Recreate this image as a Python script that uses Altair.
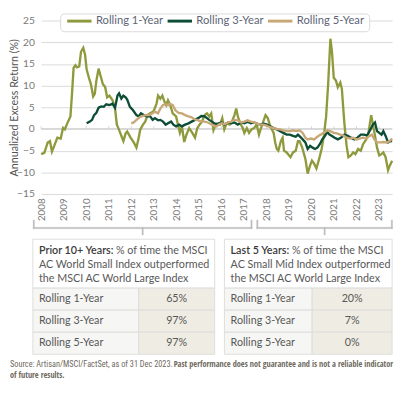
import altair as alt
import pandas as pd

# ---------------- data ----------------
series_names = ["Rolling 1-Year", "Rolling 3-Year", "Rolling 5-Year"]
series_colors = ["#8f9a3c", "#0d4d36", "#c9a878"]

rolling_1y = [
    (2008.00, -5.8), (2008.14, -5.5), (2008.29, -3.1), (2008.39, -2.8), (2008.48, -5.2),
    (2008.58, -3.9), (2008.72, -2.0), (2008.87, -2.2), (2008.97, 0.2), (2009.05, -0.1),
    (2009.16, 1.3), (2009.30, 2.9), (2009.37, 8.1), (2009.44, 14.1), (2009.52, 14.7),
    (2009.59, 14.2), (2009.69, 14.4), (2009.77, 17.8), (2009.87, 18.7), (2009.95, 17.1),
    (2010.02, 13.7), (2010.12, 11.8), (2010.21, 10.3), (2010.31, 7.5), (2010.38, 8.1),
    (2010.45, 11.1), (2010.55, 13.9), (2010.64, 12.2), (2010.74, 10.3), (2010.84, 9.7),
    (2010.93, 7.3), (2011.03, 7.7), (2011.17, 6.6), (2011.28, 4.7), (2011.36, 1.0),
    (2011.46, -0.2), (2011.56, -1.6), (2011.65, -2.8), (2011.75, -1.0), (2011.82, -0.6),
    (2011.97, -2.0), (2012.11, -3.1), (2012.23, -4.3), (2012.33, -2.0), (2012.40, -0.1),
    (2012.52, 1.0), (2012.62, 1.7), (2012.72, 3.2), (2012.84, 3.6), (2012.98, 4.0),
    (2013.12, 5.8), (2013.19, 7.7), (2013.29, 7.0), (2013.38, 7.7), (2013.48, 6.2),
    (2013.55, 5.5), (2013.63, 6.6), (2013.73, 5.5), (2013.84, 3.6), (2013.99, 2.9),
    (2014.06, 1.3), (2014.16, -0.9), (2014.25, 0.6), (2014.35, -3.0), (2014.45, -1.3),
    (2014.57, 0.2), (2014.71, -0.9), (2014.83, -2.0), (2014.93, 0.2), (2015.03, 1.0),
    (2015.14, 1.7), (2015.26, 3.2), (2015.36, 3.6), (2015.46, 2.9), (2015.55, 3.6),
    (2015.65, -0.3), (2015.75, 1.0), (2015.94, 1.0), (2016.04, 2.5), (2016.13, -0.1),
    (2016.23, 1.3), (2016.37, 1.0), (2016.47, 1.7), (2016.58, 3.2), (2016.66, 4.7),
    (2016.73, 2.9), (2016.84, 1.3), (2016.95, 0.2), (2017.02, -0.9), (2017.13, 0.2),
    (2017.23, -0.9), (2017.34, -0.1), (2017.45, 0.2), (2017.57, 1.0), (2017.67, -1.3),
    (2017.74, -0.1), (2017.86, 1.7), (2017.96, 3.2), (2018.06, 2.5), (2018.17, 0.6),
    (2018.32, -0.9), (2018.39, -3.1), (2018.46, -4.6), (2018.53, -5.0), (2018.64, -2.8),
    (2018.72, -2.0), (2018.78, -5.0), (2018.90, -5.4), (2019.01, -6.1), (2019.07, -6.5),
    (2019.18, -5.4), (2019.30, -5.0), (2019.40, -2.8), (2019.47, -2.8), (2019.59, -4.3),
    (2019.73, -6.9), (2019.83, -10.3), (2019.94, -8.4), (2020.02, -7.3), (2020.12, -8.0),
    (2020.22, -9.1), (2020.34, -6.9), (2020.45, -4.6), (2020.55, -1.6), (2020.65, 2.9),
    (2020.74, 10.3), (2020.84, 20.8), (2020.91, 17.8), (2020.99, 11.8), (2021.09, 11.1),
    (2021.17, 9.6), (2021.28, 10.7), (2021.35, 9.2), (2021.46, 1.3), (2021.56, -3.9),
    (2021.64, -6.5), (2021.75, -6.1), (2021.85, -5.4), (2021.95, -5.8), (2022.07, -4.6),
    (2022.19, -5.0), (2022.29, -3.5), (2022.43, -2.4), (2022.53, -0.9), (2022.65, 3.2),
    (2022.72, 1.3), (2022.82, -1.6), (2022.91, -4.3), (2023.01, -6.1), (2023.11, -5.8),
    (2023.19, -5.4), (2023.29, -6.5), (2023.40, -9.5), (2023.48, -8.4), (2023.58, -7.3),
]

rolling_3y = [
    (2010.02, 1.3), (2010.16, 1.7), (2010.26, 2.1), (2010.35, 3.2), (2010.45, 3.7),
    (2010.55, 4.9), (2010.67, 5.2), (2010.78, 5.1), (2010.89, 5.7), (2011.03, 5.5),
    (2011.17, 5.8), (2011.28, 4.9), (2011.39, 7.7), (2011.46, 8.2), (2011.56, 7.0),
    (2011.65, 7.7), (2011.75, 7.3), (2011.82, 6.8), (2011.94, 5.1), (2012.08, 4.3),
    (2012.23, 3.2), (2012.33, 2.9), (2012.43, 3.6), (2012.55, 3.2), (2012.69, 2.9),
    (2012.84, 2.9), (2012.95, 2.1), (2013.05, 2.5), (2013.19, 2.0), (2013.29, 2.1),
    (2013.41, 1.7), (2013.53, 1.0), (2013.63, 1.3), (2013.77, 1.7), (2013.87, 1.0),
    (2013.99, 0.6), (2014.13, 1.0), (2014.25, 0.6), (2014.39, 1.0), (2014.54, 1.3),
    (2014.68, 1.7), (2014.83, 2.1), (2014.97, 2.5), (2015.11, 3.0), (2015.26, 2.9),
    (2015.36, 2.5), (2015.46, 2.1), (2015.58, 1.7), (2015.69, 1.3), (2015.79, 1.2),
    (2015.87, 1.3), (2016.01, 1.5), (2016.15, 1.0), (2016.30, 1.5), (2016.44, 1.3),
    (2016.58, 1.5), (2016.73, 1.0), (2016.87, 1.5), (2017.02, 1.3), (2017.16, 1.7),
    (2017.31, 1.3), (2017.45, 1.5), (2017.60, 1.2), (2017.74, 1.0), (2017.88, 1.2),
    (2018.03, 1.0), (2018.17, 0.6), (2018.32, 0.2), (2018.46, -0.1), (2018.61, -0.5),
    (2018.75, -0.9), (2018.90, -1.3), (2019.04, -1.3), (2019.18, -1.6), (2019.30, -1.8),
    (2019.40, -1.3), (2019.50, -1.8), (2019.61, -2.4), (2019.73, -3.1), (2019.83, -4.6),
    (2019.94, -3.9), (2020.05, -4.3), (2020.16, -4.6), (2020.26, -4.3), (2020.37, -3.5),
    (2020.48, -2.4), (2020.60, -1.6), (2020.70, -0.7), (2020.80, -1.3), (2020.91, -1.6),
    (2021.03, -2.0), (2021.17, -2.4), (2021.32, -2.0), (2021.46, -1.3), (2021.61, -1.6),
    (2021.75, -2.0), (2021.90, -2.4), (2022.04, -2.0), (2022.19, -1.3), (2022.33, -1.3),
    (2022.47, -1.5), (2022.62, -0.1), (2022.72, 1.0), (2022.82, 1.5), (2022.91, -0.5),
    (2023.01, -0.9), (2023.11, -1.3), (2023.19, -0.5), (2023.29, -1.6), (2023.40, -3.1),
    (2023.51, -2.8), (2023.58, -2.8),
]

rolling_5y = [
    (2012.00, 1.3), (2012.11, 1.5), (2012.23, 2.1), (2012.37, 2.7), (2012.52, 3.0),
    (2012.66, 3.2), (2012.81, 3.2), (2012.95, 3.6), (2013.05, 4.0), (2013.19, 3.6),
    (2013.29, 4.7), (2013.41, 5.5), (2013.53, 5.7), (2013.63, 5.5), (2013.73, 5.8),
    (2013.84, 5.5), (2013.96, 4.3), (2014.10, 3.7), (2014.25, 3.6), (2014.39, 3.2),
    (2014.54, 2.9), (2014.68, 2.7), (2014.83, 2.2), (2014.97, 2.0), (2015.11, 1.7),
    (2015.26, 1.7), (2015.40, 1.5), (2015.55, 1.1), (2015.69, 0.7), (2015.79, 0.6),
    (2015.87, 1.0), (2016.01, 1.3), (2016.15, 1.1), (2016.30, 1.5), (2016.44, 1.7),
    (2016.58, 2.1), (2016.73, 2.0), (2016.87, 1.5), (2017.02, 1.7), (2017.16, 2.0),
    (2017.31, 1.7), (2017.45, 1.5), (2017.60, 1.2), (2017.74, 1.0), (2017.88, 1.0),
    (2018.03, 0.7), (2018.17, 0.4), (2018.32, 0.2), (2018.46, 0.0), (2018.61, -0.1),
    (2018.75, -0.3), (2018.90, -0.5), (2019.04, -0.5), (2019.18, -0.3), (2019.33, -0.5),
    (2019.47, -0.3), (2019.61, -0.9), (2019.73, -2.0), (2019.83, -2.4), (2019.98, -2.2),
    (2020.12, -2.4), (2020.26, -1.8), (2020.41, -1.3), (2020.55, -0.9), (2020.70, -0.3),
    (2020.84, -0.5), (2020.99, -0.9), (2021.13, -1.0), (2021.28, -1.3), (2021.42, -1.5),
    (2021.56, -2.0), (2021.71, -2.2), (2021.85, -2.0), (2022.00, -2.4), (2022.14, -2.2),
    (2022.29, -2.0), (2022.43, -2.2), (2022.58, -1.6), (2022.68, -1.3), (2022.79, -2.4),
    (2022.91, -3.1), (2023.05, -3.1), (2023.19, -3.0), (2023.34, -3.1), (2023.48, -2.8),
    (2023.58, -2.2),
]

year_ticks = list(range(2008, 2024))
y_ticks = [-15, -10, -5, 0, 5, 10, 15, 20, 25]

table_rows = ["Rolling 1-Year", "Rolling 3-Year", "Rolling 5-Year"]
prior_pct = ["65%", "97%", "97%"]
last5_pct = ["20%", "7%", "0%"]
prior_head_bold = "Prior 10+ Years:"
prior_head = ["% of time the MSCI", "AC World Small Index outperformed", "the MSCI AC World Large Index"]
last5_head_bold = "Last 5 Years:"
last5_head = ["% of time the MSCI", "AC Small Mid Index outperformed", "the MSCI AC World Large Index"]
source_plain = "Source: Artisan/MSCI/FactSet, as of 31 Dec 2023."
source_bold = ["Past performance does not guarantee and is not a reliable indicator", "of future results."]

# ---------------- layout constants (pixels, relative to plot origin) ----------------
W, H = 360, 178
FONT = "Lato"
COND = "Roboto Condensed"
COND_BOLD = "Open Sans Condensed"

xscale = alt.Scale(domain=[2008.0, 2023.58], nice=False, zero=False)
yscale = alt.Scale(domain=[-15, 25], nice=False, zero=False)
x_axis = alt.Axis(values=year_ticks, format="d", labelAngle=-90, grid=False, domain=False,
                  ticks=False, labelPadding=4, labelFlush=False, labelOverlap=False,
                  labelFont=FONT, labelFontSize=10, labelColor="#7a7a7a", title=None)
y_axis = alt.Axis(values=y_ticks, grid=True, gridColor="#dadada", gridWidth=1, domain=False,
                  ticks=False, labelPadding=7, labelOverlap=False, labelFont=FONT, labelFontSize=10.5,
                  labelColor="#7a7a7a", title="Annualized Excess Return (%)",
                  titleFont=FONT, titleFontSize=11, titleFontWeight="normal",
                  titleColor="#555555", titleX=-27, titleY=H / 2, titleAngle=270,
                  titleAlign="center", titleBaseline="middle")


def X(field):
    return alt.X(field, scale=xscale, axis=x_axis)


def Y(field):
    return alt.Y(field, scale=yscale, axis=y_axis)


def PX(field):
    return alt.X(field, scale=None)


def PY(field):
    return alt.Y(field, scale=None)


series_frames = []
for name, pts in zip(series_names, [rolling_1y, rolling_3y, rolling_5y]):
    series_frames.append(pd.DataFrame({"t": [p[0] for p in pts], "v": [p[1] for p in pts], "series": name}))

line_layers = [
    alt.Chart(df).mark_line(color=col, strokeWidth=2.4).encode(x=X("t:Q"), y=Y("v:Q"))
    for df, col in zip(series_frames, series_colors)
]

# zero line with small ticks
zero_df = pd.DataFrame({"t": year_ticks, "v": [0] * len(year_ticks)})
zero_rule = alt.Chart(zero_df.head(1)).mark_rule(color="#cfcfcf", strokeWidth=1.3).encode(y=Y("v:Q"))
zero_ticks = alt.Chart(zero_df).mark_tick(
    orient="vertical", size=3, thickness=1, color="#c8c8c8", yOffset=-1.5).encode(x=X("t:Q"), y=Y("v:Q"))

# ---------------- legend ----------------
leg_box = alt.Chart(pd.DataFrame({"x0": [20], "x1": [337], "y0": [-6.7], "y1": [11.5]})).mark_rect(
    fill="white", stroke="#d9d9d9", strokeWidth=1, cornerRadius=4).encode(
    x=PX("x0:Q"), x2="x1:Q", y=PY("y0:Q"), y2="y1:Q")
leg_df = pd.DataFrame({"name": series_names, "col": series_colors})
leg_df["sx"] = [26.7 + 103 * i for i in range(len(series_names))]
leg_df["ex"] = leg_df["sx"] + 25
leg_df["tx"] = leg_df["sx"] + 29.5
leg_df["y"] = 0.6
leg_lines = alt.Chart(leg_df).mark_rule(strokeWidth=3).encode(
    x=PX("sx:Q"), x2="ex:Q", y=PY("y:Q"), color=alt.Color("col:N", scale=None))
leg_text = alt.Chart(leg_df).mark_text(align="left", baseline="middle", font=FONT, fontSize=11.5,
                                       color="#5d6577").encode(x=PX("tx:Q"), y=PY("y:Q"), text="name:N")

# ---------------- period brackets below the axis labels (thin rects) ----------------
br_top, br_mid, br_bot, lw = 204.5, 212, 220, 1.5
brackets = [(-8.3, 215), (221, 359)]
br_rows = []
for a, b in brackets:
    c = (a + b) / 2
    br_rows += [
        {"x0": a, "x1": b + lw, "y0": br_mid, "y1": br_mid + lw},
        {"x0": a, "x1": a + lw, "y0": br_top, "y1": br_mid + lw},
        {"x0": b, "x1": b + lw, "y0": br_top, "y1": br_mid + lw},
        {"x0": c, "x1": c + lw, "y0": br_mid, "y1": br_bot},
    ]
bracket_layer = alt.Chart(pd.DataFrame(br_rows)).mark_rect(
    fill="#bdbdbd", stroke="#c4c4c4", strokeWidth=0.3).encode(
    x=PX("x0:Q"), x2="x1:Q", y=PY("y0:Q"), y2="y1:Q")

# ---------------- tables ----------------
head_top, head_bot, row_h = 224.3, 274.5, 22.6
tables = [
    dict(x0=-8.5, xv=100, x1=178, bold=prior_head_bold, head=prior_head, vals=prior_pct, bold_w=79),
    dict(x0=188, xv=278, x1=360, bold=last5_head_bold, head=last5_head, vals=last5_pct, bold_w=63),
]
cells, texts_left, texts_center, texts_bold = [], [], [], []
for tb in tables:
    cells.append({"x0": tb["x0"], "x1": tb["x1"], "y0": head_top, "y1": head_bot, "fill": "#ffffff"})
    tx = tb["x0"] + 6.3
    line_y = [head_top + 12, head_top + 27, head_top + 41]
    texts_bold.append({"x": tx, "y": line_y[0], "text": tb["bold"]})
    texts_left.append({"x": tx + tb["bold_w"], "y": line_y[0], "text": tb["head"][0]})
    texts_left.append({"x": tx, "y": line_y[1], "text": tb["head"][1]})
    texts_left.append({"x": tx, "y": line_y[2], "text": tb["head"][2]})
    for i, (lab, val) in enumerate(zip(table_rows, tb["vals"])):
        y0 = head_bot + i * row_h
        cells.append({"x0": tb["x0"], "x1": tb["xv"], "y0": y0, "y1": y0 + row_h, "fill": "#f6f6f4"})
        cells.append({"x0": tb["xv"], "x1": tb["x1"], "y0": y0, "y1": y0 + row_h, "fill": "#efece3"})
        texts_left.append({"x": tx, "y": y0 + row_h / 2, "text": lab})
        texts_center.append({"x": (tb["xv"] + tb["x1"]) / 2, "y": y0 + row_h / 2, "text": val})

cell_layer = alt.Chart(pd.DataFrame(cells)).mark_rect(stroke="#dddddd", strokeWidth=1).encode(
    x=PX("x0:Q"), x2="x1:Q", y=PY("y0:Q"), y2="y1:Q", fill=alt.Fill("fill:N", scale=None))


def text_layer(rows, align, color, weight="normal", font=FONT, size=11):
    return alt.Chart(pd.DataFrame(rows)).mark_text(
        align=align, baseline="middle", font=font, fontSize=size, fontWeight=weight, color=color).encode(
        x=PX("x:Q"), y=PY("y:Q"), text="text:N")


txt_left = text_layer(texts_left, "left", "#585858")
txt_center = text_layer(texts_center, "center", "#585858")
txt_bold = text_layer(texts_bold, "left", "#3b3b3b", weight=600)

# ---------------- footer ----------------
foot_y1, foot_y2 = 352.5, 363.7
foot_size = 8.5
foot_plain = text_layer([{"x": -32, "y": foot_y1, "text": source_plain}], "left", "#6f6a60",
                        font=COND, size=foot_size)
foot_bold = text_layer([{"x": -32 + 19.4 * foot_size + 3, "y": foot_y1, "text": source_bold[0]},
                        {"x": -32, "y": foot_y2, "text": source_bold[1]}], "left", "#6f6a60",
                       weight="bold", font=COND_BOLD, size=foot_size)

chart = alt.layer(
    zero_rule, zero_ticks, *line_layers, leg_box, leg_lines, leg_text, bracket_layer,
    cell_layer, txt_left, txt_center, txt_bold, foot_plain, foot_bold,
).properties(width=W, height=H, padding=0, background="white").configure_view(
    stroke=None).configure_axis(labelOverlap=False)

chart.save("out.html", embed_options={"renderer": "svg", "actions": False})
